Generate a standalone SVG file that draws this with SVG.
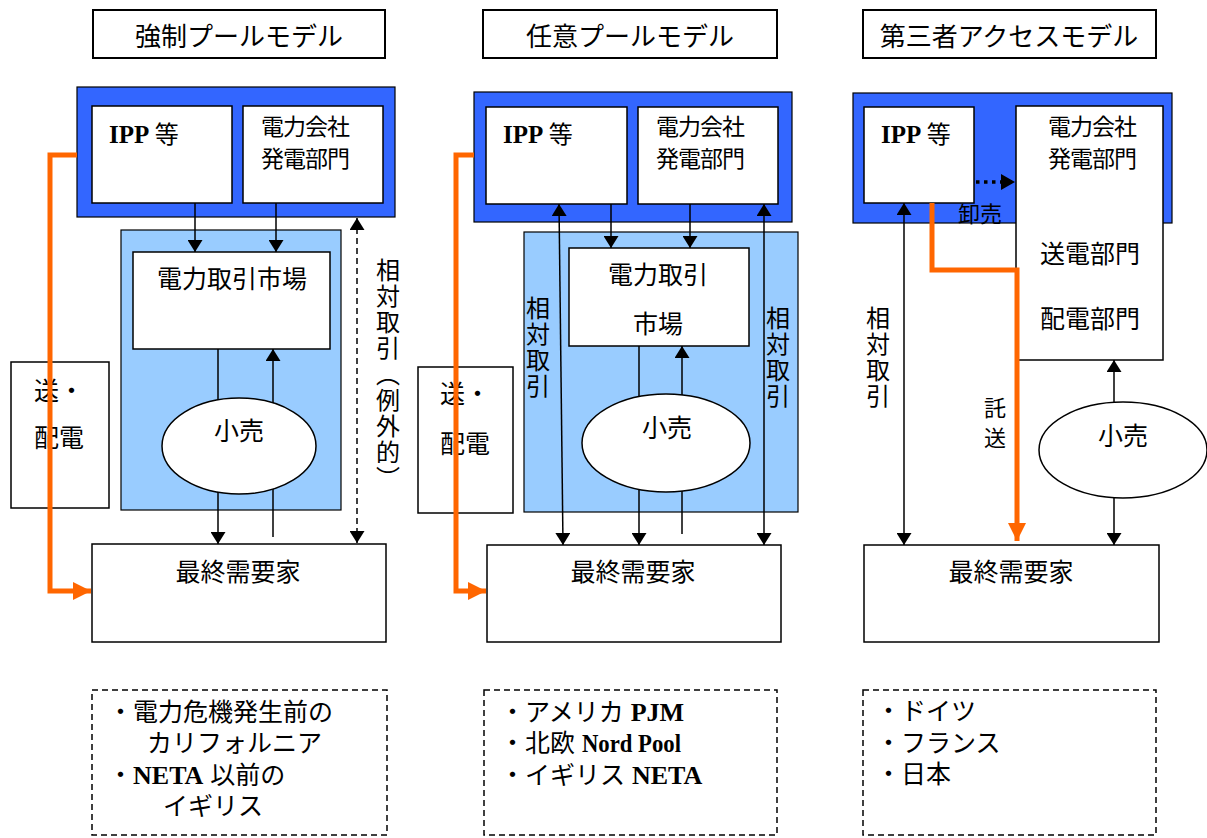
<svg xmlns="http://www.w3.org/2000/svg" width="1207" height="838" viewBox="0 0 1207 838">
<style>
.jp{font-family:"Noto Sans CJK JP","Noto Sans CJK SC",sans-serif;fill:#000}
.nt{font-family:"Liberation Sans","Noto Sans CJK JP",sans-serif;font-size:25px;fill:#000}
.lat{font-family:"Liberation Serif","Noto Sans CJK JP",serif;font-weight:bold}
.box{fill:#fff;stroke:#000;stroke-width:1.5}
.ttl{fill:#fff;stroke:#000;stroke-width:2}
.blue{fill:#3366FF;stroke:#000;stroke-width:1.2}
.lblue{fill:#99CCFF;stroke:#000;stroke-width:1.2}
.ln{stroke:#000;stroke-width:1.5;fill:none}
.dash{stroke:#000;stroke-width:1.5;fill:none;stroke-dasharray:6 4}
.dot{stroke:#000;stroke-width:3.5;fill:none;stroke-dasharray:3.5 4.5}
.or{stroke:#FF6600;stroke-width:5;fill:none;stroke-linejoin:miter}
.note{fill:none;stroke:#000;stroke-width:1.5;stroke-dasharray:6 4}
.vt{writing-mode:vertical-rl;font-size:24px;letter-spacing:2px}
.t26{font-size:26px}
.t25{font-size:25px}
.t24{font-size:24px}
.t23{font-size:23px;letter-spacing:-1px}
.t22{font-size:22px}
.mid{text-anchor:middle}
</style>
<defs>
<marker id="ah" viewBox="0 0 12 15" refX="12" refY="7.5" markerWidth="12" markerHeight="15" markerUnits="userSpaceOnUse" orient="auto-start-reverse"><path d="M0,0 L12,7.5 L0,15 z" fill="#000"/></marker>
<marker id="ahd" viewBox="0 0 14 16" refX="14" refY="8" markerWidth="14" markerHeight="16" markerUnits="userSpaceOnUse" orient="auto"><path d="M0,0 L14,8 L0,16 z" fill="#000"/></marker>
<marker id="aho" viewBox="0 0 18 18" refX="18" refY="9" markerWidth="18" markerHeight="18" markerUnits="userSpaceOnUse" orient="auto"><path d="M0,0 L18,9 L0,18 z" fill="#FF6600"/></marker>
</defs>
<rect width="1207" height="838" fill="#fff"/>

<!-- titles -->
<g id="title1"><rect class="ttl" x="93" y="10" width="292" height="48"/><text class="jp t26 mid" x="239" y="46">強制プールモデル</text></g>
<g id="title2"><rect class="ttl" x="483" y="10" width="294" height="48"/><text class="jp t26 mid" x="630" y="46">任意プールモデル</text></g>
<g id="title3"><rect class="ttl" x="863" y="10" width="293" height="48"/><text class="jp t26 mid" x="1009" y="46">第三者アクセスモデル</text></g>

<!-- ===== left panel ===== -->
<g id="gen1"><rect class="blue" x="77" y="87" width="318" height="130"/></g>
<g id="ipp1"><rect class="box" x="92" y="106" width="140" height="97"/><text class="jp t24" x="109" y="143"><tspan class="lat" font-size="25">IPP</tspan> 等</text></g>
<g id="util1"><rect class="box" x="243" y="106" width="140" height="97"/><text class="jp t23" x="261" y="135">電力会社</text><text class="jp t23" x="261" y="167">発電部門</text></g>
<g id="pool1"><rect class="lblue" x="121" y="230" width="220" height="280"/></g>
<g id="market1"><rect class="box" x="133" y="252" width="197" height="97"/><text class="jp t25 mid" x="232" y="288">電力取引市場</text></g>
<g id="td1"><rect class="box" x="11" y="362" width="98" height="146"/><text class="jp t25" x="34" y="400">送・</text><text class="jp t25" x="34" y="447">配電</text></g>
<g id="cust1"><rect class="box" x="92" y="544" width="294" height="98"/><text class="jp t25 mid" x="238" y="581">最終需要家</text></g>
<g id="lbl1"><text class="jp vt" x="388" y="258">相対取引（例外的）</text></g>

<!-- ===== middle panel ===== -->
<g id="gen2"><rect class="blue" x="474" y="92" width="318" height="130"/></g>
<g id="ipp2"><rect class="box" x="486" y="107" width="141" height="97"/><text class="jp t24" x="503" y="143"><tspan class="lat" font-size="25">IPP</tspan> 等</text></g>
<g id="util2"><rect class="box" x="638" y="107" width="140" height="97"/><text class="jp t23" x="656" y="135">電力会社</text><text class="jp t23" x="656" y="167">発電部門</text></g>
<g id="pool2"><rect class="lblue" x="524" y="232" width="274" height="280"/></g>
<g id="market2"><rect class="box" x="569" y="248" width="180" height="98"/><text class="jp t25 mid" x="658" y="284">電力取引</text><text class="jp t25 mid" x="658" y="333">市場</text></g>
<g id="td2"><rect class="box" x="418" y="367" width="95" height="146"/><text class="jp t25" x="440" y="403">送・</text><text class="jp t25" x="440" y="453">配電</text></g>
<g id="cust2"><rect class="box" x="487" y="545" width="294" height="97"/><text class="jp t25 mid" x="633" y="581">最終需要家</text></g>
<g id="lbl2a"><text class="jp vt" x="538" y="296">相対取引</text></g>
<g id="lbl2b"><text class="jp vt" x="778" y="306">相対取引</text></g>

<!-- ===== right panel ===== -->
<g id="gen3"><rect class="blue" x="853" y="93" width="319" height="130"/></g>
<g id="ipp3"><rect class="box" x="864" y="107" width="110" height="96"/><text class="jp t24" x="881" y="143"><tspan class="lat" font-size="25">IPP</tspan> 等</text></g>
<g id="util3"><rect class="box" x="1016" y="106" width="147" height="254"/>
<text class="jp t23 mid" x="1092" y="135">電力会社</text><text class="jp t23 mid" x="1092" y="167">発電部門</text>
<text class="jp t25 mid" x="1090" y="263">送電部門</text><text class="jp t25 mid" x="1090" y="328">配電部門</text></g>
<g id="cust3"><rect class="box" x="864" y="545" width="295" height="97"/><text class="jp t25 mid" x="1011" y="581">最終需要家</text></g>
<g id="lbl3"><text class="jp vt" x="878" y="306">相対取引</text></g>
<g id="lbl3b"><text class="jp vt" x="995" y="397" style="font-size:22px;letter-spacing:8px">託送</text></g>

<!-- connectors -->
<g id="connectors">
<line class="ln" x1="195" y1="203" x2="195" y2="252" marker-end="url(#ah)"/>
<line class="ln" x1="276" y1="203" x2="276" y2="252" marker-end="url(#ah)"/>
<line class="ln" x1="218" y1="349" x2="218" y2="544" marker-end="url(#ah)"/>
<line class="ln" x1="273" y1="537" x2="273" y2="349" marker-end="url(#ah)"/>
<line class="dash" x1="357" y1="218" x2="357" y2="543" marker-start="url(#ah)" marker-end="url(#ah)"/>
<polyline class="or" points="77,155 50,155 50,591 91,591" marker-end="url(#aho)"/>

<line class="ln" x1="611" y1="204" x2="611" y2="248" marker-end="url(#ah)"/>
<line class="ln" x1="690" y1="204" x2="690" y2="248" marker-end="url(#ah)"/>
<line class="ln" x1="639" y1="346" x2="639" y2="545" marker-end="url(#ah)"/>
<line class="ln" x1="682" y1="534" x2="682" y2="346" marker-end="url(#ah)"/>
<line class="ln" x1="559" y1="204" x2="563" y2="545" marker-start="url(#ah)" marker-end="url(#ah)"/>
<line class="ln" x1="764" y1="204" x2="764" y2="545" marker-start="url(#ah)" marker-end="url(#ah)"/>
<polyline class="or" points="474,155 456,155 456,591 486,591" marker-end="url(#aho)"/>

<line class="ln" x1="904" y1="203" x2="904" y2="545" marker-start="url(#ah)" marker-end="url(#ah)"/>
<line class="dot" x1="976" y1="182" x2="1015" y2="182" marker-end="url(#ahd)"/>
<line class="ln" x1="1114" y1="403" x2="1114" y2="360" marker-end="url(#ah)"/>
<line class="ln" x1="1114" y1="498" x2="1114" y2="545" marker-end="url(#ah)"/>
<polyline class="or" points="932,203 932,270 1017,270 1017,541" marker-end="url(#aho)"/>
<text class="jp t22 mid" x="980" y="222">卸売</text>
</g>

<!-- retail ellipses (drawn over connectors) -->
<g id="retail1"><ellipse cx="239" cy="446" rx="77" ry="48" fill="#fff" stroke="#000" stroke-width="1.5"/><text class="jp t25 mid" x="239" y="440">小売</text></g>
<g id="retail2"><ellipse cx="666" cy="443" rx="84" ry="49" fill="#fff" stroke="#000" stroke-width="1.5"/><text class="jp t25 mid" x="667" y="437">小売</text></g>
<g id="retail3"><ellipse cx="1123" cy="450" rx="84" ry="48" fill="#fff" stroke="#000" stroke-width="1.5"/><text class="jp t25 mid" x="1123" y="445">小売</text></g>

<!-- notes -->
<g id="note1"><rect class="note" x="92" y="690" width="295" height="145"/>
<text class="nt"><tspan x="108" y="721">・電力危機発生前の</tspan><tspan x="147" y="752">カリフォルニア</tspan><tspan x="108" y="784">・</tspan><tspan class="lat" font-size="26">NETA</tspan><tspan> 以前の</tspan><tspan x="163" y="815">イギリス</tspan></text></g>
<g id="note2"><rect class="note" x="484" y="690" width="293" height="145"/>
<text class="nt"><tspan x="500" y="721">・アメリカ </tspan><tspan class="lat" font-size="26">PJM</tspan><tspan x="500" y="752">・北欧 </tspan><tspan class="lat" font-size="26" textLength="99" lengthAdjust="spacingAndGlyphs">Nord Pool</tspan><tspan x="500" y="784">・イギリス </tspan><tspan class="lat" font-size="26">NETA</tspan></text></g>
<g id="note3"><rect class="note" x="863" y="690" width="293" height="145"/>
<text class="nt"><tspan x="876" y="720">・ドイツ</tspan><tspan x="876" y="752">・フランス</tspan><tspan x="876" y="783">・日本</tspan></text></g>
</svg>
